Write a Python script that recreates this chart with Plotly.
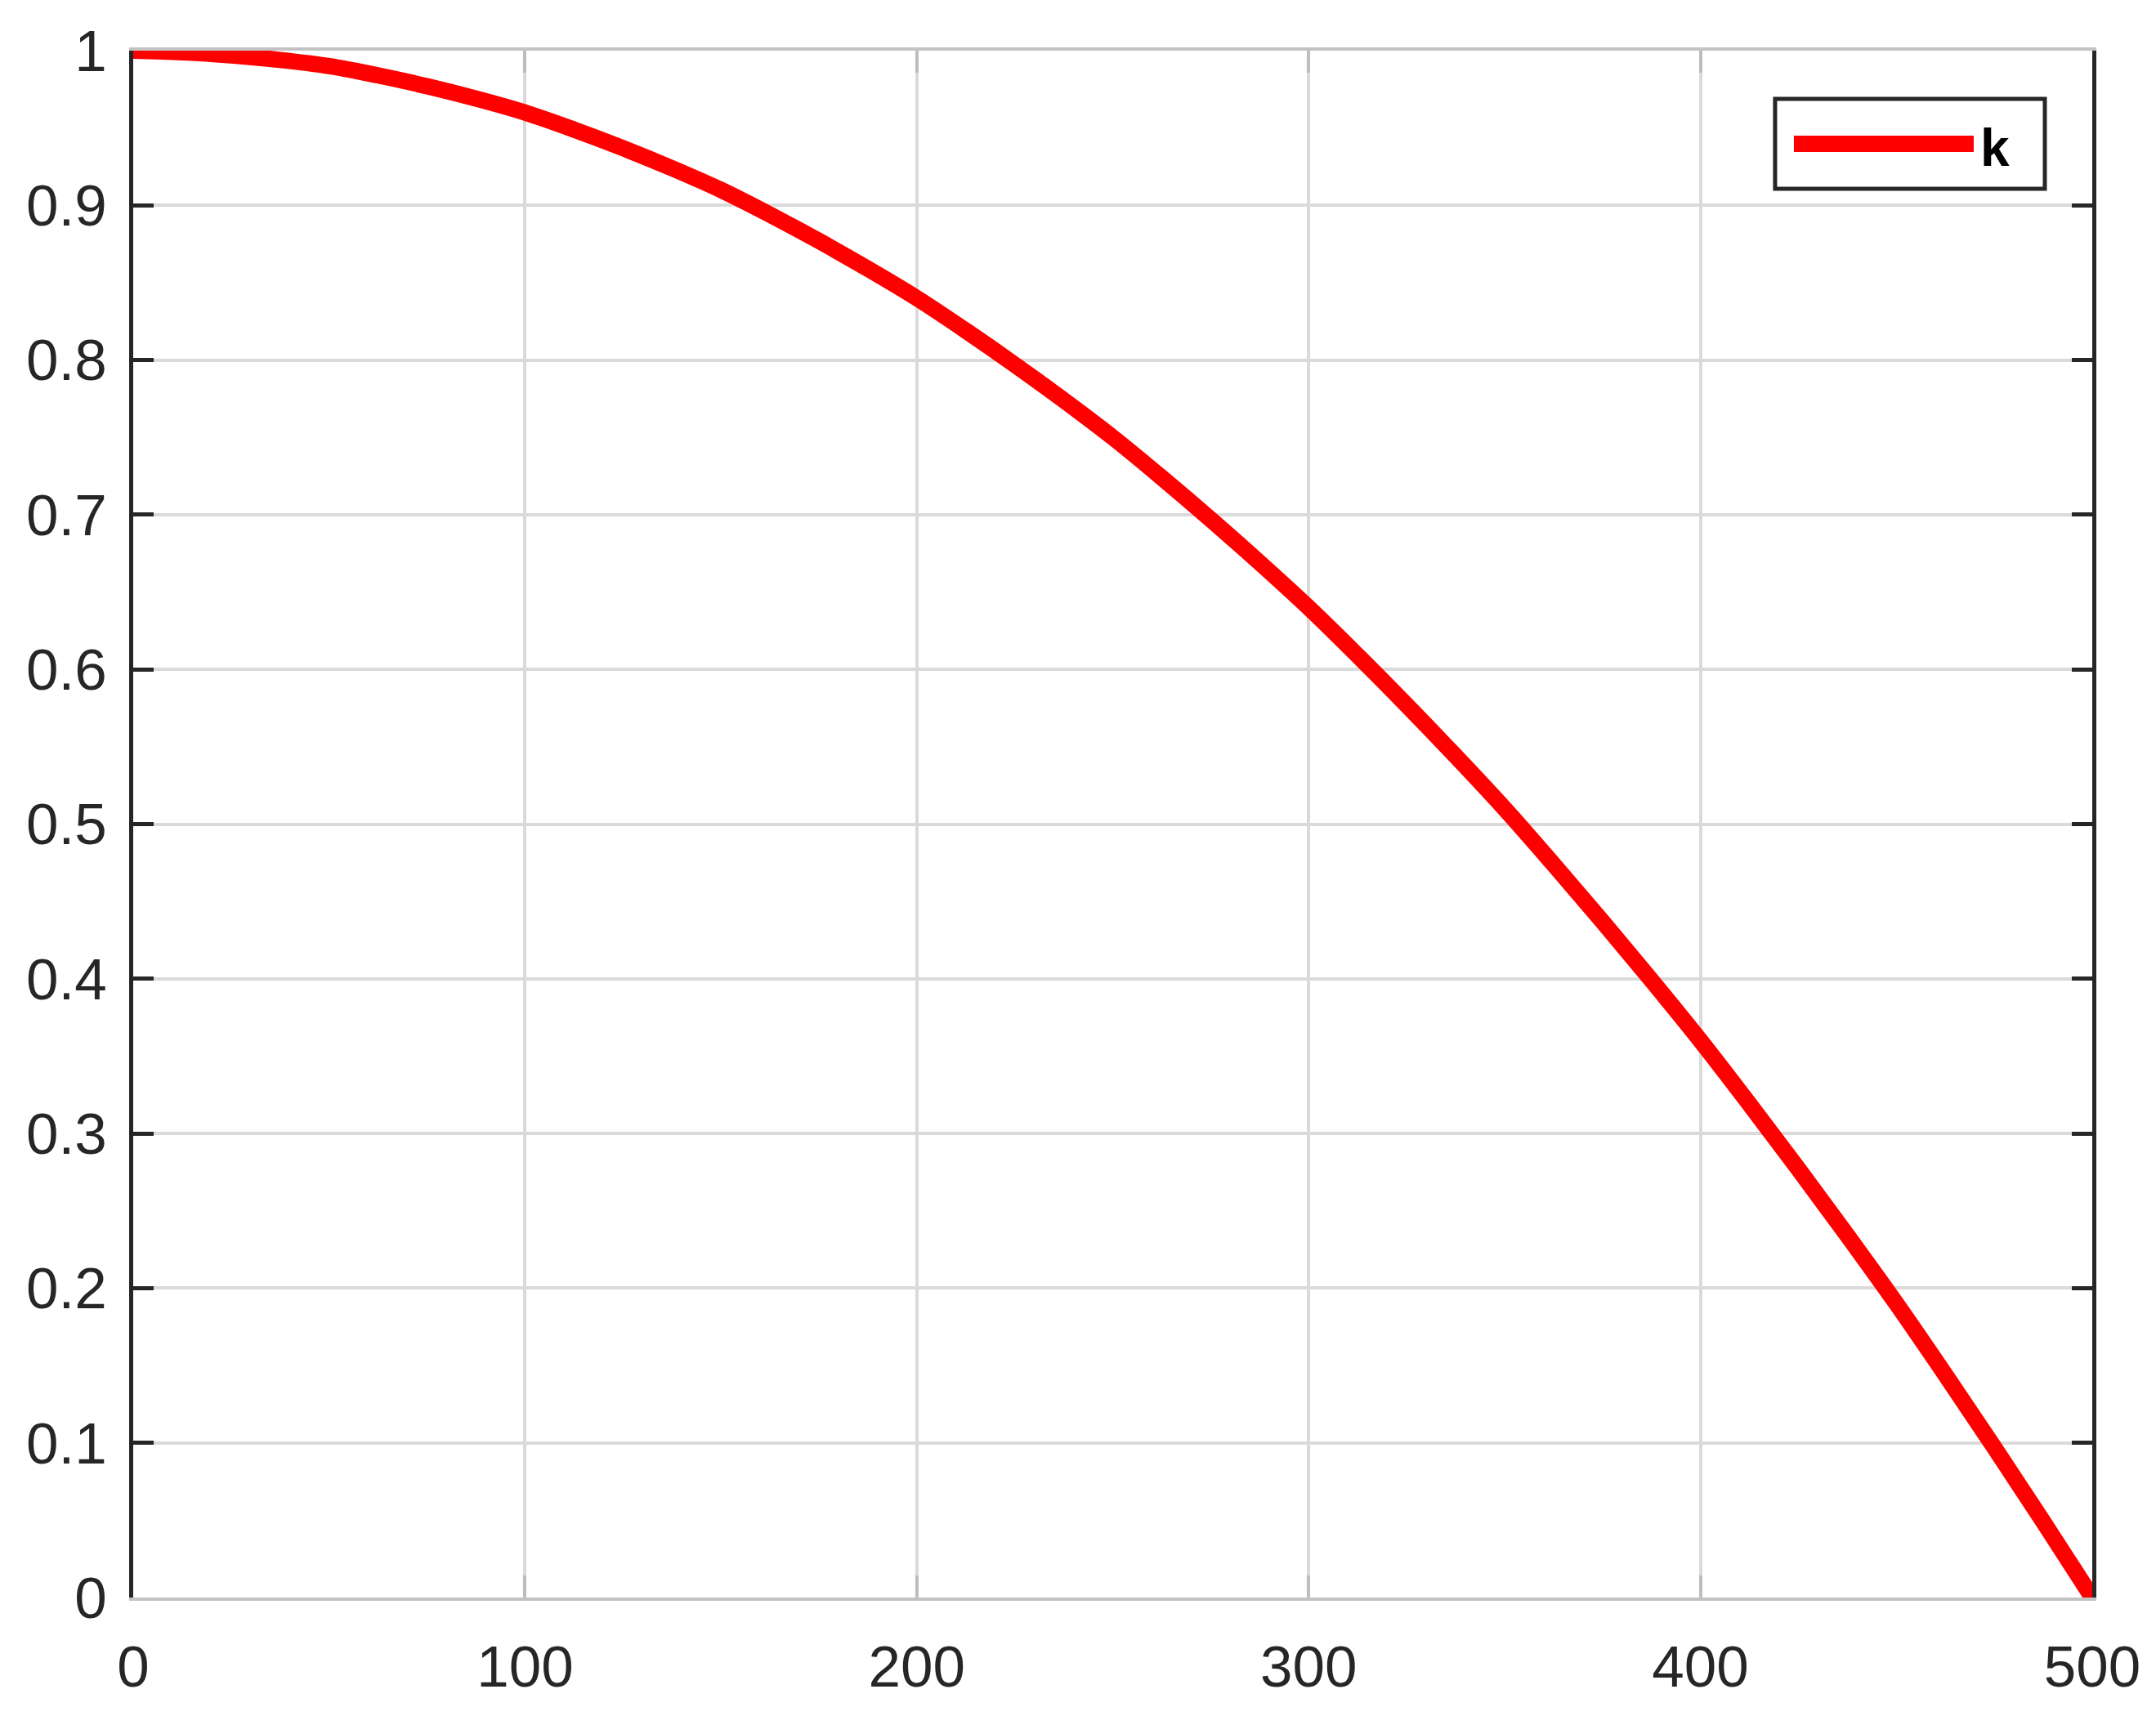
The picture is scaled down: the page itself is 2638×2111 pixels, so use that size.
import plotly.graph_objects as go

# values
x_vals = [0, 12.5, 25, 37.5, 50, 62.5, 75, 87.5, 100, 112.5, 125, 137.5, 150, 162.5,
          175, 187.5, 200, 212.5, 225, 237.5, 250, 262.5, 275, 287.5, 300, 312.5,
          325, 337.5, 350, 362.5, 375, 387.5, 400, 412.5, 425, 437.5, 450, 462.5,
          475, 487.5, 500]
k_vals = [1.0, 0.999, 0.997, 0.994, 0.99, 0.984, 0.977, 0.969, 0.96, 0.949, 0.937,
          0.924, 0.91, 0.894, 0.877, 0.859, 0.84, 0.819, 0.797, 0.774, 0.75, 0.724,
          0.697, 0.669, 0.64, 0.609, 0.577, 0.544, 0.51, 0.474, 0.437, 0.399, 0.36,
          0.319, 0.277, 0.234, 0.19, 0.144, 0.097, 0.049, 0.0]

x_ticks = [0, 100, 200, 300, 400, 500]
y_ticks = [0, 0.1, 0.2, 0.3, 0.4, 0.5, 0.6, 0.7, 0.8, 0.9, 1]
y_ticktext = ["0", "0.1", "0.2", "0.3", "0.4", "0.5", "0.6", "0.7", "0.8", "0.9", "1"]

series_name = "k"
line_color = "#ff0000"

fig = go.Figure()
fig.add_trace(go.Scatter(x=x_vals, y=k_vals, mode="lines", name=series_name,
                         line=dict(color=line_color, width=20, shape="spline",
                                   simplify=False),
                         showlegend=False))

tick_font = dict(family="Liberation Sans, Arial", size=71, color="#262626")

# legend drawn by hand so the sample line can be as thick as the curve
fig.add_shape(type="rect", xref="paper", yref="paper",
              x0=0.8381, x1=0.9758, y0=0.9107, y1=0.9688,
              line=dict(color="#262626", width=5), fillcolor="white", layer="above")
fig.add_shape(type="line", xref="paper", yref="paper",
              x0=0.8477, x1=0.9395, y0=0.9398, y1=0.9398,
              line=dict(color=line_color, width=20), layer="above")
fig.add_annotation(text="<b>" + series_name + "</b>", xref="paper", yref="paper",
                   x=0.9420, y=0.9371, xanchor="left", yanchor="middle",
                   showarrow=False,
                   font=dict(family="Liberation Sans, Arial", size=64, color="black"))

# page body has an 8px margin, so the figure is 8px smaller each way
fig.update_layout(
    width=2630, height=2103,
    margin=dict(l=155, r=78, t=54, b=156),
    paper_bgcolor="white", plot_bgcolor="white",
    showlegend=False,
    xaxis=dict(range=[0, 500], tickvals=x_ticks, tickfont=tick_font,
               showgrid=True, gridcolor="#dadada", gridwidth=4,
               showline=True, linecolor="#c3c3c3", linewidth=4, mirror="ticks",
               ticks="inside", ticklen=27, tickwidth=4, tickcolor="#bdbdbd",
               ticklabelstandoff=20, zeroline=False),
    yaxis=dict(range=[0, 1], tickvals=y_ticks, ticktext=y_ticktext, tickfont=tick_font,
               showgrid=True, gridcolor="#dadada", gridwidth=4,
               showline=True, linecolor="#262626", linewidth=5, mirror="ticks",
               ticks="inside", ticklen=25, tickwidth=5, tickcolor="#262626",
               ticklabelstandoff=13, zeroline=False),
)

fig.write_html("out.html")
